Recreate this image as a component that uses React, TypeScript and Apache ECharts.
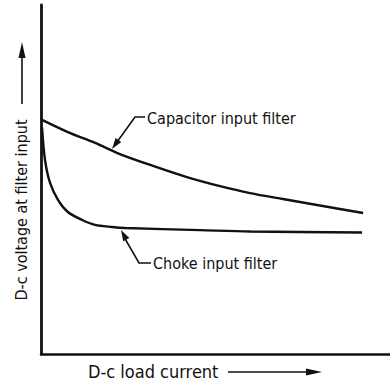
import React, { useEffect, useRef } from "react";
import * as echarts from "echarts";

// Relative load current (0–100) and relative d-c output voltage (0–100)
const capacitorCurrent = [0.3, 7.7, 15.5, 22.6, 32.1, 41.8, 51.3, 59.9, 69.3, 79.1, 92.3];
const capacitorVoltage = [67.1, 63.6, 60.5, 57.3, 53.9, 50.7, 48.1, 46.1, 44.4, 42.7, 40.4];
const chokeCurrent = [0.3, 1.15, 2.6, 4.9, 7.7, 11.8, 15.5, 20.3, 24.1, 45.6, 59.9, 92];
const chokeVoltage = [64.8, 55.6, 49.0, 44.1, 40.7, 38.4, 37.0, 36.4, 36.1, 35.5, 35.1, 34.8];

const capacitorLabel = "Capacitor input filter";
const chokeLabel = "Choke input filter";
const xAxisLabel = "D-c load current";
const yAxisLabel = "D-c voltage at filter input";

const INK = "#111";
const FONT = '"DejaVu Sans Condensed", "Liberation Sans Narrow", "Liberation Sans", sans-serif';

type Pt = [number, number];

// Triangle arrowhead pointing at `tip`, coming from `from`
function arrowHead(tip: Pt, from: Pt, len: number, hw: number) {
  const dx = tip[0] - from[0];
  const dy = tip[1] - from[1];
  const l = Math.hypot(dx, dy);
  const ux = dx / l;
  const uy = dy / l;
  const bx = tip[0] - ux * len;
  const by = tip[1] - uy * len;
  return {
    type: "polygon",
    shape: { points: [tip, [bx - uy * hw, by + ux * hw], [bx + uy * hw, by - ux * hw]] },
    style: { fill: INK },
    silent: true,
  };
}

function leader(points: Pt[]) {
  return {
    type: "polyline",
    shape: { points },
    style: { stroke: INK, lineWidth: 1.6, fill: "none" },
    silent: true,
  };
}

function label(text: string, x: number, y: number, size = 16, rotation = 0) {
  return {
    type: "text",
    x,
    y,
    rotation,
    style: {
      text,
      fill: INK,
      font: `${size}px ${FONT}`,
      textAlign: rotation ? "center" : "left",
      textVerticalAlign: "middle",
    },
    silent: true,
  };
}

const toPairs = (xs: number[], ys: number[]) => xs.map((x, i) => [x, ys[i]]);

export default function App() {
  const ref = useRef<HTMLDivElement>(null);

  useEffect(() => {
    if (!ref.current) return;
    const chart = echarts.init(ref.current, null, { renderer: "svg" });

    const capTip: Pt = [112, 149];
    const chokeTip: Pt = [121, 230];

    chart.setOption({
      animation: false,
      backgroundColor: "#fff",
      grid: { left: 41, right: 0, top: 5, bottom: 26 },
      xAxis: {
        type: "value",
        min: 0,
        max: 100,
        axisLine: { show: true, lineStyle: { color: INK, width: 2.5 } },
        axisTick: { show: false },
        axisLabel: { show: false },
        splitLine: { show: false },
      },
      yAxis: {
        type: "value",
        min: 0,
        max: 100,
        axisLine: { show: true, lineStyle: { color: INK, width: 2.8 } },
        axisTick: { show: false },
        axisLabel: { show: false },
        splitLine: { show: false },
      },
      series: [
        {
          name: capacitorLabel,
          type: "line",
          data: toPairs(capacitorCurrent, capacitorVoltage),
          smooth: 0.3,
          showSymbol: false,
          lineStyle: { color: INK, width: 2.4 },
        },
        {
          name: chokeLabel,
          type: "line",
          data: toPairs(chokeCurrent, chokeVoltage),
          smooth: 0.3,
          showSymbol: false,
          lineStyle: { color: INK, width: 2.4 },
        },
      ],
      graphic: [
        label(capacitorLabel, 147, 118),
        leader([[145, 117], [135, 117], [117, 142]]),
        arrowHead(capTip, [135, 117], 11, 3.5),
        label(chokeLabel, 153, 263),
        leader([[151, 263], [139, 263], [124, 237]]),
        arrowHead(chokeTip, [139, 263], 11, 3.5),
        label(xAxisLabel, 88, 371, 18),
        leader([[228, 372], [308, 372]]),
        arrowHead([322, 372], [228, 372], 16, 3.5),
        label(yAxisLabel, 21, 210, 16, Math.PI / 2),
        leader([[22, 104], [22, 55]]),
        arrowHead([22, 42], [22, 104], 16, 3.5),
      ],
    });

    return () => chart.dispose();
  }, []);

  return (
    <div
      ref={ref}
      style={{ position: "fixed", left: 0, top: 0, width: 390, height: 380 }}
    />
  );
}
